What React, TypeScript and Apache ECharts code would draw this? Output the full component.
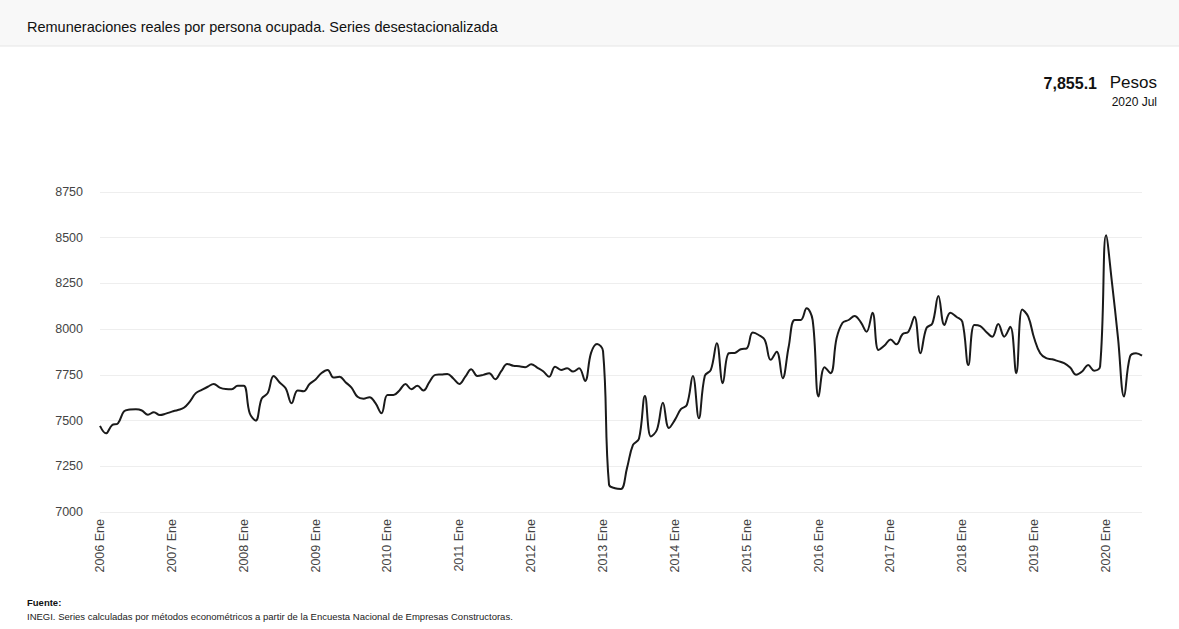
import React, { useEffect, useRef } from "react";
import * as echarts from "echarts";

const years = [2006, 2007, 2008, 2009, 2010, 2011, 2012, 2013, 2014, 2015, 2016, 2017, 2018, 2019, 2020];
const monthNames = ["Ene", "Feb", "Mar", "Abr", "May", "Jun", "Jul", "Ago", "Sep", "Oct", "Nov", "Dic"];

const v2006 = [7471, 7430, 7475, 7485, 7550, 7560, 7562, 7555, 7532, 7546, 7530, 7538];
const v2007 = [7549, 7558, 7570, 7604, 7650, 7668, 7685, 7700, 7680, 7672, 7671, 7690];
const v2008 = [7690, 7540, 7500, 7620, 7650, 7744, 7708, 7677, 7595, 7665, 7660, 7700];
const v2009 = [7725, 7760, 7777, 7735, 7740, 7710, 7680, 7630, 7620, 7628, 7595, 7540];
const v2010 = [7640, 7640, 7665, 7700, 7671, 7690, 7664, 7710, 7750, 7752, 7755, 7730];
const v2011 = [7700, 7740, 7781, 7744, 7750, 7759, 7726, 7770, 7810, 7800, 7797, 7792];
const v2012 = [7808, 7790, 7770, 7740, 7795, 7777, 7786, 7768, 7786, 7717, 7870, 7919];
const v2013 = [7880, 7150, 7130, 7126, 7240, 7367, 7400, 7635, 7413, 7450, 7598, 7460];
const v2014 = [7504, 7562, 7586, 7744, 7513, 7745, 7777, 7923, 7704, 7868, 7870, 7890];
const v2015 = [7895, 7981, 7968, 7941, 7832, 7877, 7732, 7904, 8050, 8050, 8114, 8050];
const v2016 = [7631, 7792, 7759, 7950, 8035, 8050, 8072, 8040, 7986, 8090, 7886, 7910];
const v2017 = [7944, 7917, 7972, 7986, 8068, 7868, 8005, 8032, 8181, 8023, 8090, 8068];
const v2018 = [8040, 7804, 8023, 8017, 7985, 7959, 8028, 7959, 8013, 7759, 8108, 8068];
const v2019 = [7950, 7868, 7841, 7835, 7825, 7814, 7790, 7750, 7768, 7804, 7773, 7795];
const v2020 = [8514, 8250, 7950, 7631, 7850, 7868, 7855.1];

const yearlyValues = [v2006, v2007, v2008, v2009, v2010, v2011, v2012, v2013, v2014, v2015, v2016, v2017, v2018, v2019, v2020];

const yMin = 7000;
const yMax = 8750;
const yStep = 250;

const titleText = "Remuneraciones reales por persona ocupada. Series desestacionalizada";
const latestValue = "7,855.1";
const unitText = "Pesos";
const latestPeriod = "2020 Jul";
const sourceLabel = "Fuente:";
const sourceText = "INEGI. Series calculadas por métodos econométricos a partir de la Encuesta Nacional de Empresas Constructoras.";

const FONT = "'Liberation Sans', Arial, sans-serif";

export default function App() {
  const ref = useRef<HTMLDivElement>(null);

  useEffect(() => {
    if (!ref.current) return;
    const chart = echarts.init(ref.current, undefined, { renderer: "svg" });

    const categories: string[] = [];
    const values: number[] = [];
    yearlyValues.forEach((arr, yi) => {
      arr.forEach((v, mi) => {
        categories.push(`${years[yi]} ${monthNames[mi]}`);
        values.push(v);
      });
    });

    chart.setOption({
      animation: false,
      backgroundColor: "#ffffff",
      textStyle: { fontFamily: FONT },
      grid: { left: 100, right: 37, top: 192, bottom: 117, containLabel: false },
      xAxis: {
        type: "category",
        data: categories,
        boundaryGap: false,
        axisLine: { show: false },
        axisTick: { show: false },
        splitLine: { show: false },
        axisLabel: {
          rotate: 90,
          interval: (idx: number) => idx % 12 === 0,
          color: "#444",
          fontSize: 12.5,
          fontFamily: FONT,
          margin: 7,
        },
      },
      yAxis: {
        type: "value",
        min: yMin,
        max: yMax,
        interval: yStep,
        axisLine: { show: false },
        axisTick: { show: false },
        splitLine: { lineStyle: { color: "#eeeeee", width: 1 } },
        axisLabel: {
          color: "#444",
          fontSize: 12.5,
          fontFamily: FONT,
          margin: 17,
          formatter: (v: number) => String(v),
        },
      },
      series: [
        {
          type: "line",
          data: values,
          smooth: 0.4,
          symbol: "none",
          lineStyle: { color: "#1a1a1a", width: 2 },
        },
      ],
      graphic: [
        { type: "rect", left: 0, top: 0, shape: { width: 1179, height: 46 }, style: { fill: "#f8f8f8" } },
        { type: "line", shape: { x1: 0, y1: 46, x2: 1179, y2: 46 }, style: { stroke: "#e6e6e6", lineWidth: 1 } },
        {
          type: "text",
          left: 27,
          top: 19,
          style: { text: titleText, fontSize: 14.5, fill: "#111", fontFamily: FONT },
        },
        {
          type: "text",
          right: 82,
          top: 75,
          style: { text: latestValue, fontSize: 16, fontWeight: "bold", fill: "#111", fontFamily: FONT },
        },
        {
          type: "text",
          right: 22,
          top: 74,
          style: { text: unitText, fontSize: 17, fill: "#111", fontFamily: FONT },
        },
        {
          type: "text",
          right: 22,
          top: 96,
          style: { text: latestPeriod, fontSize: 12, fill: "#111", fontFamily: FONT },
        },
        {
          type: "text",
          left: 27,
          top: 597,
          style: { text: sourceLabel, fontSize: 9.5, fontWeight: "bold", fill: "#111", fontFamily: FONT },
        },
        {
          type: "text",
          left: 27,
          top: 611,
          style: { text: sourceText, fontSize: 9.5, fill: "#222", fontFamily: FONT },
        },
      ],
    });

    return () => chart.dispose();
  }, []);

  return (
    <div
      ref={ref}
      style={{ position: "fixed", left: 0, top: 0, width: 1179, height: 629 }}
    />
  );
}
